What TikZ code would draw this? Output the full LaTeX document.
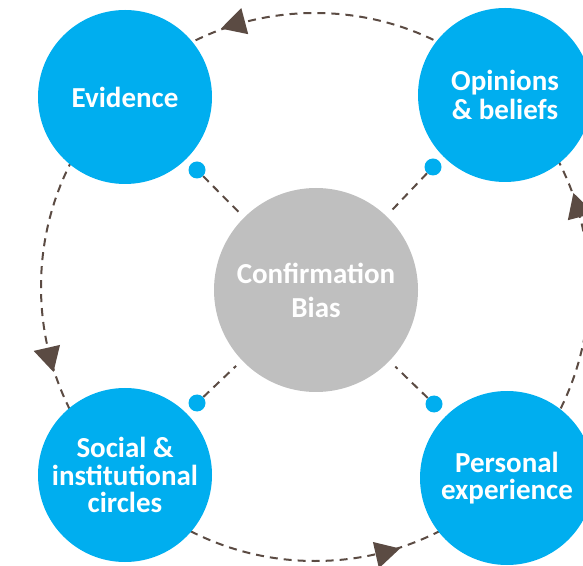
\documentclass[tikz,border=0pt]{standalone}
\usepackage{fontspec}
\setmainfont{Carlito}
\usetikzlibrary{calc}
\definecolor{cblue}{HTML}{00AEEF}
\definecolor{cgray}{HTML}{BFBFBF}
\definecolor{cdark}{HTML}{5B4B43}
\tikzset{
  bluecircle/.style={circle, fill=cblue, minimum size=174pt, inner sep=0pt, text=white, align=center, font=\fontsize{29}{29}\selectfont\bfseries},
  graycircle/.style={circle, fill=cgray, minimum size=204pt, inner sep=0pt, text=white, align=center, font=\fontsize{29}{34}\selectfont\bfseries},
  dot/.style={circle, fill=cblue, minimum size=17pt, inner sep=0pt},
  dashline/.style={draw=cdark, line width=2pt, dash pattern=on 8pt off 6pt},
  arrowtri/.style={fill=cdark},
}
\begin{document}
\begin{tikzpicture}[x=1pt,y=1pt]
\useasboundingbox (0,0) rectangle (583,565);
\clip (0,0) rectangle (583,565);
\coordinate (C) at (315,278);
% big dashed cycle
\draw[dashline] (C) circle[radius=274];
\foreach \t in {20,110,198,288}{
  \fill[arrowtri] ($(C)+(\t:275)$) -- ($(C)+(\t-5.2:261.5)$) -- ($(C)+(\t-5.2:288.5)$) -- cycle;
}
% nodes
\node[graycircle] (cb) at (316,275) {Confirmation\\Bias};
\node[bluecircle] (ev) at (125,468) {Evidence};
\node[bluecircle, font=\fontsize{29}{29}\selectfont\bfseries] (op) at (505,470) {Opinions\\\& beliefs};
\node[bluecircle, font=\fontsize{29}{27.5}\selectfont\bfseries] (so) at (125,90) {Social \&\\institutional\\circles};
\node[bluecircle, font=\fontsize{29}{27.5}\selectfont\bfseries] (pe) at (507,87) {Personal\\experience};
% dots
\node[dot] (d1) at (197,395) {};
\node[dot] (d2) at (433,398) {};
\node[dot] (d3) at (197,162) {};
\node[dot] (d4) at (434,161) {};
% dashed connectors
\draw[dashline, shorten >=8pt] (d1) -- (cb);
\draw[dashline, shorten >=8pt] (d2) -- (cb);
\draw[dashline, shorten >=8pt] (d3) -- (cb);
\draw[dashline, shorten >=8pt] (d4) -- (cb);
\end{tikzpicture}
\end{document}
